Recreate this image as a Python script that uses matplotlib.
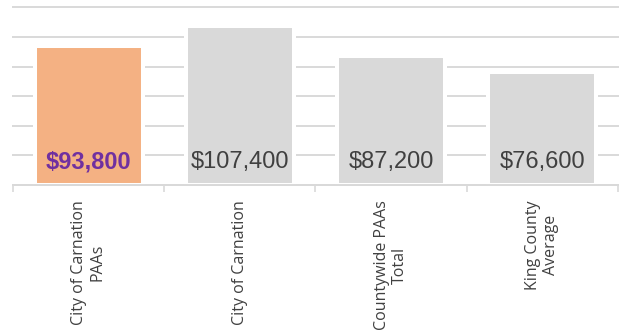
import matplotlib
matplotlib.use("Agg")
import matplotlib.pyplot as plt
import numpy as np

# median household income by area
categories = ["City of Carnation\nPAAs", "City of Carnation",
              "Countywide PAAs\nTotal", "King County\nAverage"]
values = [93800, 107400, 87200, 76600]
colors = ["#F4B183", "#D9D9D9", "#D9D9D9", "#D9D9D9"]
label_colors = ["#7030A0", "#404040", "#404040", "#404040"]
label_weights = ["bold", "normal", "normal", "normal"]

fig = plt.figure(figsize=(6.21, 3.31), dpi=100)
ax = fig.add_axes([0.021, 0.441, 0.974, 0.537])

x = np.arange(len(categories))
ax.set_axisbelow(True)
ax.yaxis.grid(True, color="#D9D9D9", linewidth=1.4)
ax.bar(x, values, width=0.715, color=colors, edgecolor="white", linewidth=2.9)

for xi, v, c, w in zip(x, values, label_colors, label_weights):
    ax.annotate("${:,}".format(v), (xi, 0), xytext=(0, 12), textcoords="offset points",
                ha="center", va="baseline", fontsize=17, color=c, fontweight=w,
                family="Liberation Sans")

ax.set_ylim(0, 120000)
ax.set_yticks(np.arange(0, 120001, 20000))
ax.set_xlim(-0.5, 3.5)
ax.tick_params(axis="y", left=False, labelleft=False)
for gl in ax.get_ygridlines():
    gl.set_clip_on(False)

ax.set_xticks(x)
ax.set_xticklabels(categories, rotation=90, ha="center", va="top", multialignment="center",
                   fontsize=11.5, color="#404040", family="Open Sans")
ax.tick_params(axis="x", which="major", length=0, pad=11)
ax.set_xticks(np.arange(-0.5, 4, 1), minor=True)
ax.tick_params(axis="x", which="minor", length=5, color="#D9D9D9", width=1.2)

for s in ["left", "right", "top"]:
    ax.spines[s].set_visible(False)
ax.spines["bottom"].set_color("#D9D9D9")
ax.spines["bottom"].set_linewidth(1.4)

fig.savefig("out.png", dpi=100)
